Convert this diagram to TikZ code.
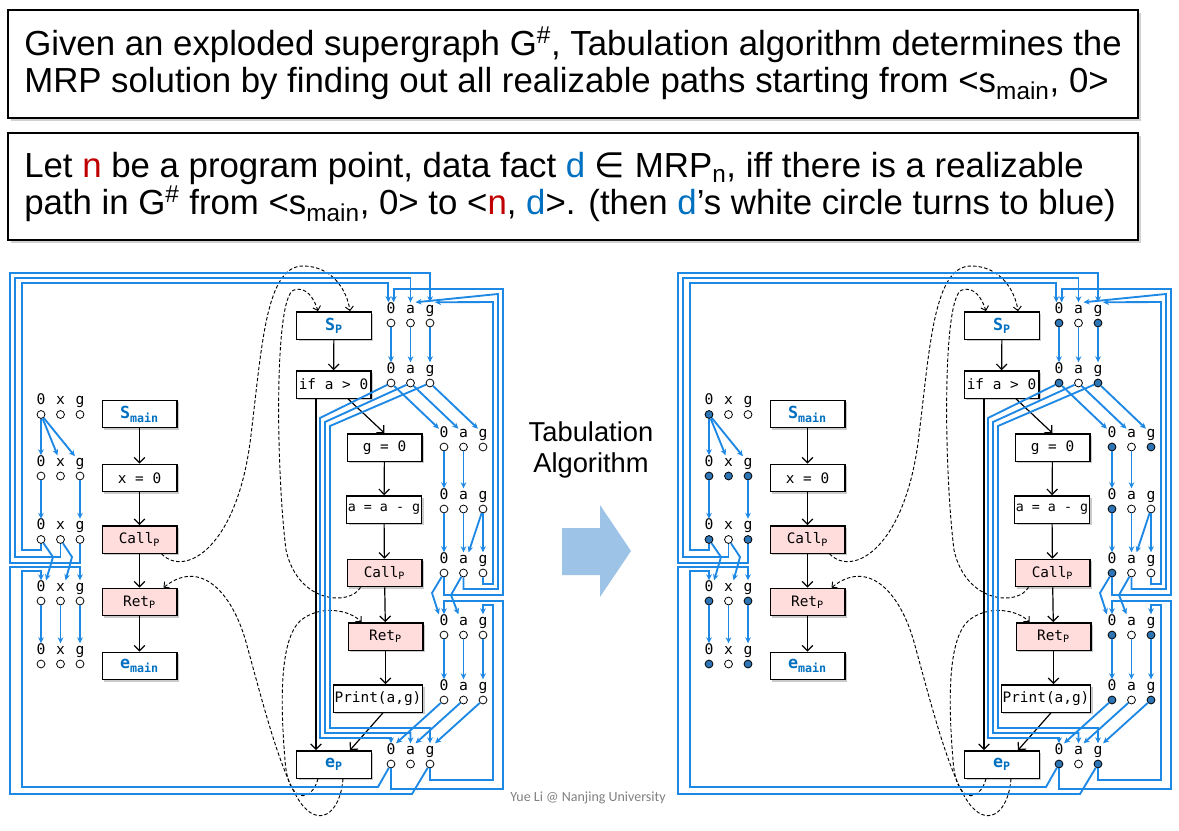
\documentclass[tikz,border=0pt]{standalone}
\usepackage{fontspec}
\setmainfont{Liberation Sans}
\newfontfamily\code{DejaVu Sans Mono}
\newfontfamily\djv{DejaVu Sans}
\newfontfamily\carl{Carlito}
\usetikzlibrary{arrows.meta,shadows,calc}
\definecolor{lineblue}{RGB}{30,136,229}
\definecolor{factblue}{RGB}{46,117,182}
\definecolor{nodeblue}{RGB}{0,112,192}
\definecolor{callpink}{RGB}{255,221,221}
\definecolor{redn}{RGB}{192,0,0}
\definecolor{arrowfill}{RGB}{157,195,230}
\tikzset{
 fact/.style={circle,draw,line width=0.6pt,inner sep=0pt,minimum size=5.9pt,fill=white},
 flab/.style={font=\code\fontsize{11}{11}\selectfont, inner sep=0.3pt, text height=7.6pt, text depth=2.2pt},
 bl/.style={draw=lineblue, line width=1.4pt, -{Stealth[length=4.5pt,width=4.2pt]}},
 stmt/.style={draw, line width=1pt, fill=white, minimum width=56pt, minimum height=20.5pt, inner sep=1pt,
   font=\code\fontsize{10.8}{12}\selectfont,
   drop shadow={shadow xshift=1.6pt,shadow yshift=-1.6pt,opacity=0.35,fill=black!60}},
 callbox/.style={stmt, fill=callpink},
 flow/.style={draw, line width=0.9pt, -{Straight Barb[length=4pt,width=8pt,line width=0.9pt]}},
 dsh/.style={draw, line width=0.7pt, dash pattern=on 2.6pt off 1.6pt, -{Straight Barb[length=3pt,width=6pt]}},
 tbox/.style={draw, line width=1.8pt, fill=white, drop shadow={shadow xshift=2pt,shadow yshift=-2pt,opacity=0.3,fill=black!60}},
 txt/.style={font=\fontsize{26.1}{30}\selectfont, inner sep=0pt, anchor=base west, text depth=0pt},
 Lon/.style={fill=white}, Loff/.style={fill=white},
 Ron/.style={fill=factblue}, Roff/.style={fill=white},
}
\newcommand\bigS[1]{{\color{nodeblue}\bfseries\fontsize{12.5}{13}\selectfont #1}}
\newcommand\factrow[9]{%
  \node[flab] (#11t) at (#2,#3) {#4};
  \node[flab] (#12t) at (#2+19.5,#3) {#5};
  \node[flab] (#13t) at (#2+39,#3) {#6};
  \node[fact,#7] (#11c) at (#2,#3+13.5) {};
  \node[fact,#8] (#12c) at (#2+19.5,#3+13.5) {};
  \node[fact,#9] (#13c) at (#2+39,#3+13.5) {};
}
\newcommand\drawpanel[1]{%
 % statements of main
 \node[stmt] (#1sm) at (139.5,414) {\bigS{S\textsubscript{main}}};
 \node[stmt] (#1mx) at (139.5,478) {x = 0};
 \node[callbox] (#1mcall) at (139.5,539.5) {Call\textsubscript{P}};
 \node[callbox] (#1mret) at (139.5,602) {Ret\textsubscript{P}};
 \node[stmt] (#1em) at (139.5,666) {\bigS{e\textsubscript{main}}};
 % statements of p
 \node[stmt] (#1sp) at (334,325.5) {\bigS{S\textsubscript{P}}};
 \node[stmt] (#1if) at (333.5,384.5) {if a > 0};
 \node[stmt] (#1g0) at (384.5,447.5) {g = 0};
 \node[stmt, font=\code\fontsize{10}{12}\selectfont] (#1aa) at (384,509.5) {a = a - g};
 \node[callbox] (#1pcall) at (384.5,573) {Call\textsubscript{P}};
 \node[callbox] (#1pret) at (385.5,636.5) {Ret\textsubscript{P}};
 \node[stmt, minimum width=66pt] (#1pr) at (378,698.5) {Print(a,g)};
 \node[stmt] (#1ep) at (334,764.5) {\bigS{e\textsubscript{P}}};
 % control flow
 \draw[flow] (#1sm) -- (#1mx);
 \draw[flow] (#1mx) -- (#1mcall);
 \draw[flow] (#1mcall) -- (#1mret);
 \draw[flow] (#1mret) -- (#1em);
 \draw[flow] (#1sp) -- (#1if);
 \draw[flow] ($(#1if.south)+(14.5,0)$) -- (#1g0.north);
 \draw[flow] (#1g0) -- (#1aa);
 \draw[flow] (#1aa) -- (#1pcall);
 \draw[flow] (#1pcall) -- (#1pret);
 \draw[flow] (#1pret.south) -- (#1pret.south |- #1pr.north);
 \coordinate (#1ifl) at ($(#1if.south)+(-17.5,0)$);
 \draw[flow] (#1ifl) -- (#1ifl |- #1ep.north);
 \draw[flow] ($(#1pr.south)+(5,0)$) -- ($(#1ep.north)+(16,0)$);
 % interprocedural dashed edges
 \draw[dsh] ($(#1mcall.south)+(22,0)$) .. controls (185,578) and (238,548) .. (251,435)
   .. controls (262,345) and (266,266) .. (303,266) .. controls (332,266) and (347,290) .. ($(#1sp.north)+(16,0)$);
 \draw[dsh] ($(#1pcall.south west)+(14,0)$) .. controls (350,606) and (298,604) .. (286,550)
   .. controls (276,470) and (274,296) .. (294,290) .. controls (306,286) and (314,298) .. ($(#1sp.north)+(-16,0)$);
 \draw[dsh] ($(#1ep.south)+(9,0)$) .. controls (340,815) and (318,828) .. (300,802)
   .. controls (280,772) and (262,700) .. (246,642) .. controls (232,592) and (200,558) .. ($(#1mret.north)+(24,0)$);
 \draw[dsh] ($(#1ep.south)+(-16,0)$) .. controls (312,802) and (288,806) .. (285,760)
   .. controls (280,700) and (280,640) .. (300,621) .. controls (320,604) and (350,610) .. ($(#1pret.north west)+(14,0)$);
 % facts
 \factrow{#1ma}{41}{401}{0}{x}{g}{#1on}{#1off}{#1off}
 \factrow{#1mb}{41}{462.5}{0}{x}{g}{#1on}{#1on}{#1on}
 \factrow{#1mc}{41}{526}{0}{x}{g}{#1on}{#1off}{#1on}
 \factrow{#1md}{41}{587.5}{0}{x}{g}{#1on}{#1off}{#1on}
 \factrow{#1me}{41}{650.5}{0}{x}{g}{#1on}{#1off}{#1on}
 \factrow{#1pa}{391}{309.5}{0}{a}{g}{#1on}{#1off}{#1on}
 \factrow{#1pb}{391}{369.5}{0}{a}{g}{#1on}{#1off}{#1on}
 \factrow{#1pc}{444}{433.5}{0}{a}{g}{#1on}{#1off}{#1on}
 \factrow{#1pd}{444}{495.5}{0}{a}{g}{#1on}{#1off}{#1off}
 \factrow{#1pe}{444}{559.5}{0}{a}{g}{#1on}{#1off}{#1off}
 \factrow{#1pf}{444}{621.5}{0}{a}{g}{#1on}{#1off}{#1on}
 \factrow{#1pg}{444}{686.5}{0}{a}{g}{#1on}{#1off}{#1on}
 \factrow{#1ph}{391}{750.5}{0}{a}{g}{#1on}{#1off}{#1on}
 % exploded edges of main
 \draw[bl] (#1ma1c) -- (#1mb1t);
 \draw[bl] (#1ma1c) -- (#1mb2t);
 \draw[bl] (#1ma1c) -- (#1mb3t);
 \draw[bl] (#1mb1c) -- (#1mc1t);
 \draw[bl] (#1mb3c) -- (#1mc3t);
 \draw[bl] (#1mc1c) |- (22,550) -- (22,283) -| ([xshift=-2pt]#1pa1t.north);
 \draw[bl] (#1mc2c) |- (15,557) -- (15,278) -| (#1pa2t.north);
 \draw[bl] (#1mc3c) |- (10,563) -- (10,273) -| (#1pa3t.north);
 \draw[bl] (#1mc1c) -- (53,557) -- (#1md1t.north east);
 \draw[bl] (#1mc2c) -- (72,557) -- (#1md2t.north east);
 \draw[bl] (#1ph1c) -- (378,787) -- (22,787) -- (22,571) -| (#1md1t.north);
 \draw[bl] (#1ph3c) -- (412,794) -- (10,794) -- (10,567) -| (#1md3t.north);
 \draw[bl] (#1md1c) -- (#1me1t);
 \draw[bl] (#1md2c) -- (#1me2t);
 \draw[bl] (#1md3c) -- (#1me3t);
 % exploded edges of p
 \draw[bl] (#1pa1c) -- (#1pb1t);
 \draw[bl] (#1pa2c) -- (#1pb2t);
 \draw[bl] (#1pa3c) -- (#1pb3t);
 \draw[bl] (#1pb1c) -- (#1pc1t);
 \draw[bl] (#1pb2c) -- (#1pc2t);
 \draw[bl] (#1pb3c) -- (#1pc3t);
 \draw[bl] (#1pb1c) -- (320,418) -- (320,738) -| (#1ph1t.north);
 \draw[bl] (#1pb2c) -- (325,422) -- (325,733) -| (#1ph2t.north);
 \draw[bl] (#1pb3c) -- (330,426) -- (330,728) -| (#1ph3t.north);
 \draw[bl] (#1pc1c) -- (#1pd1t);
 \draw[bl] (#1pc2c) -- (#1pd2t);
 \draw[bl] (#1pd1c) -- (#1pe1t);
 \draw[bl] (#1pd2c) -- (#1pe2t);
 \draw[bl] (#1pd3c) -- (#1pe3t);
 \draw[bl] (#1pd3c) -- (#1pe2t.north east);
 \draw[bl] (#1pe3c) |- (493,584) -- (493,302) -- (#1pa3t.north east);
 \draw[bl] (#1pe2c) |- (498,589) -- (498,294) -- (#1pa2t.north east);
 \draw[bl] (#1pe1c) |- (503,595) -- (503,289) -| ([xshift=2pt]#1pa1t.north);
 \draw[bl] (#1pe1c) -- (432,593) -- (#1pf1t.north west);
 \draw[bl] (#1pe2c) -- (451,595) -- (#1pf2t.north west);
 \draw[bl] (#1ph1c) -- (391,789) -- (503,789) -- (503,601) -| (#1pf1t.north);
 \draw[bl] (#1ph3c) -- (430,780) -- (493,780) -- (493,605) -| (#1pf3t.north);
 \draw[bl] (#1pf1c) -- (#1pg1t);
 \draw[bl] (#1pf2c) -- (#1pg2t);
 \draw[bl] (#1pf3c) -- (#1pg3t);
 \draw[bl] (#1pg1c) -- (#1ph1t.north east);
 \draw[bl] (#1pg2c) -- (#1ph2t.north east);
 \draw[bl] (#1pg3c) -- (#1ph3t.north east);
}
\begin{document}
\begin{tikzpicture}[x=0.75pt,y=-0.75pt]
\useasboundingbox (0,0) rectangle (1179,831);
% top statements
\draw[tbox] (8,10) rectangle (1138,118);
\draw[tbox] (8,133) rectangle (1138,240);
\node[txt] (t1) at (24,56) {Given an exploded supergraph G\textsuperscript{\#}, Tabulation algorithm determines the};
\node[txt] (t2) at (24,93) {MRP solution by finding out all realizable paths starting from <s\textsubscript{main}, 0>};
\node[txt] (t3) at (24,178) {Let {\color{redn}n} be a program point, data fact {\color{nodeblue}d} {\djv ∈} MRP\textsubscript{n}, iff there is a realizable};
\node[txt] (t4) at (24,215) {path in G\textsuperscript{\#} from <s\textsubscript{main}, 0> to <{\color{redn}n}, {\color{nodeblue}d}>. (then {\color{nodeblue}d}’s white circle turns to blue)};
% panels
\drawpanel{L}
\begin{scope}[shift={(668,0)}]
\drawpanel{R}
\end{scope}
% middle
\node[font=\fontsize{20.5}{23}\selectfont, align=center] (tab) at (591,450) {Tabulation\\Algorithm};
\fill[arrowfill] (562,528) -- (600,528) -- (600,505) -- (631,551) -- (600,597) -- (600,575) -- (562,575) -- cycle;
\node[font=\carl\fontsize{10.5}{12}\selectfont, text=black!50] (foot) at (588,798) {Yue Li @ Nanjing University};
\end{tikzpicture}
\end{document}
